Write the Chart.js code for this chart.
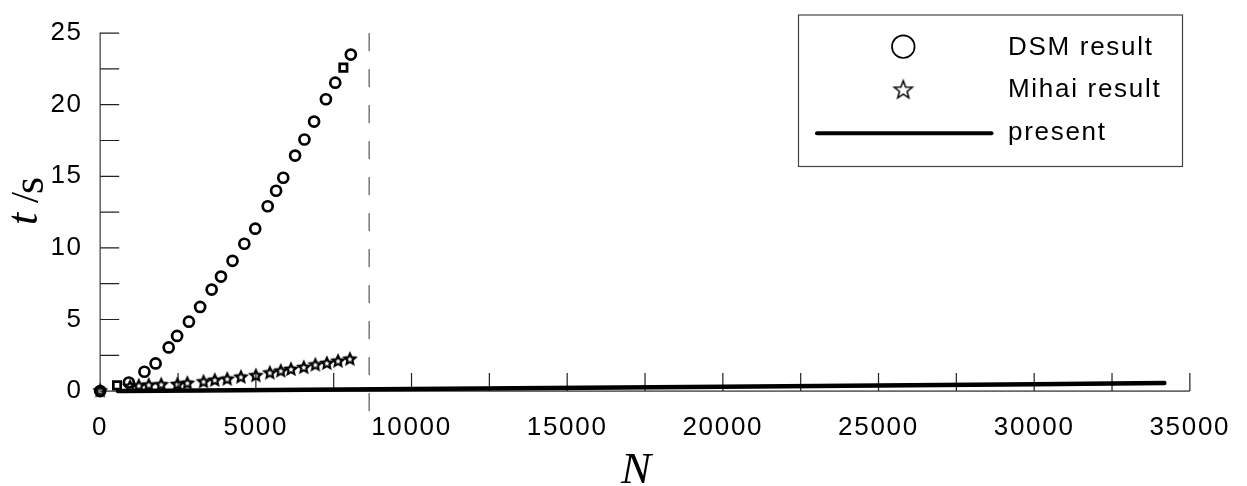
<!DOCTYPE html>
<html>
<head>
<meta charset="utf-8">
<script src="https://cdn.jsdelivr.net/npm/chart.js@4.4.0/dist/chart.umd.min.js"></script>
<style>
  html, body { margin: 0; padding: 0; background: #fff; }
  #wrap { width: 1247px; height: 486px; position: relative; }
  #c { display: block; }
</style>
</head>
<body>
<div id="wrap"><canvas id="c" width="1247" height="486"></canvas></div>
<script>
// ---- data ----
const seriesNames = ['DSM result', 'Mihai result', 'present'];

const dsmN = [0, 540, 920, 1420, 1780, 2200, 2470, 2850, 3210, 3580, 3880, 4250,
              4630, 4980, 5380, 5650, 5880, 6260, 6560, 6870, 7250, 7550, 7810, 8050];
const dsmT = [0, 0.4, 0.6, 1.35, 1.93, 3.05, 3.85, 4.85, 5.88, 7.09, 8.0, 9.1,
              10.29, 11.34, 12.91, 13.99, 14.9, 16.45, 17.57, 18.82, 20.38, 21.54, 22.59, 23.5];

const mihaiN = [0, 960, 1240, 1560, 1960, 2480, 2800, 3320, 3680, 4080, 4520, 5000,
                5450, 5800, 6130, 6540, 6910, 7280, 7640, 8020];
const mihaiT = [0.05, 0.35, 0.4, 0.45, 0.48, 0.5, 0.58, 0.68, 0.79, 0.87, 1.01, 1.11,
                1.3, 1.43, 1.55, 1.68, 1.86, 1.97, 2.12, 2.26];

const presentN = [570, 3250, 10000, 20000, 30000, 34180];
const presentT = [0.0, 0.04, 0.14, 0.31, 0.47, 0.56];

const limitN = [8640, 8640];
const limitT = [25, -1.7];

const xTickLabels = [0, 5000, 10000, 15000, 20000, 25000, 30000, 35000];
const yTickLabels = [0, 5, 10, 15, 20, 25];
const xMinorStep = 2500;
const yMinorStep = 2.5;

// ---- helpers ----
const pts = (xs, ys) => xs.map((x, i) => ({ x: x, y: ys[i] }));

function starImage(outer, inner, lw) {
  const size = Math.ceil(outer * 2 + lw * 2 + 2);
  const c = document.createElement('canvas');
  c.width = c.height = size;
  const g = c.getContext('2d');
  g.translate(size / 2, size / 2 + outer * 0.1);
  g.beginPath();
  for (let i = 0; i < 10; i++) {
    const r = i % 2 ? inner : outer;
    const a = -Math.PI / 2 + i * Math.PI / 5;
    g.lineTo(r * Math.cos(a), r * Math.sin(a));
  }
  g.closePath();
  g.lineWidth = lw;
  g.strokeStyle = '#000';
  g.lineJoin = 'miter';
  g.stroke();
  return c;
}
const smallStar = starImage(5.6, 2.6, 2.2);
const legendStar = starImage(9.5, 4, 1.5);
const squareMarks = [1, 22];

const FONT = "'Liberation Sans', Arial, Helvetica, sans-serif";
const SERIF = "'Liberation Serif', 'Times New Roman', serif";
const SPACING = '1.7px';

Chart.defaults.font.family = FONT;
Chart.defaults.color = '#000';

// axes lines, inward tick marks, axis titles and the key box
const decor = {
  id: 'decor',
  beforeDraw(chart) {
    chart.ctx.letterSpacing = SPACING;
  },
  beforeDatasetsDraw(chart) {
    const { ctx, chartArea: a, scales: { x, y } } = chart;
    ctx.save();
    ctx.strokeStyle = '#6a6a6a';
    ctx.lineWidth = 1.6;
    ctx.beginPath();
    ctx.moveTo(a.left, a.top - 0.6);
    ctx.lineTo(a.left, a.bottom);
    ctx.lineTo(a.right, a.bottom);
    ctx.stroke();

    ctx.strokeStyle = '#222';
    ctx.lineWidth = 1.2;
    ctx.beginPath();
    for (let v = x.min + xMinorStep; v <= x.max + 1e-6; v += xMinorStep) {
      const px = x.getPixelForValue(v);
      ctx.moveTo(px, a.bottom);
      ctx.lineTo(px, a.bottom - 18);
    }
    for (let v = y.min + yMinorStep; v <= y.max + 1e-6; v += yMinorStep) {
      const py = y.getPixelForValue(v);
      ctx.moveTo(a.left, py);
      ctx.lineTo(a.left + 19, py);
    }
    ctx.stroke();
    ctx.restore();
  },
  afterDraw(chart) {
    const { ctx } = chart;
    ctx.save();
    ctx.letterSpacing = '0px';
    ctx.fillStyle = '#000';

    // x title
    ctx.font = 'italic 45px ' + SERIF;
    ctx.textAlign = 'center';
    ctx.textBaseline = 'alphabetic';
    ctx.fillText('N', 636, 483);

    // y title
    ctx.save();
    ctx.translate(36.7, 227);
    ctx.rotate(-Math.PI / 2);
    ctx.textAlign = 'left';
    ctx.font = 'italic 44px ' + SERIF;
    ctx.fillText('t', 2, 0);
    ctx.font = '40px ' + SERIF;
    ctx.fillText('/', 24, 1);
    ctx.font = '44px ' + SERIF;
    ctx.fillText('s', 33, 6.6);
    ctx.restore();

    // key box
    const bx = 798.5, by = 15, bw = 384, bh = 151.5;
    ctx.strokeStyle = '#444';
    ctx.lineWidth = 1.2;
    ctx.strokeRect(bx, by, bw, bh);

    const rows = [46.7, 89.3, 131.7];
    const mx = 903.3;
    ctx.strokeStyle = '#000';
    ctx.lineWidth = 1.7;
    ctx.beginPath();
    ctx.arc(mx, rows[0], 11.3, 0, Math.PI * 2);
    ctx.stroke();
    ctx.drawImage(legendStar, mx - legendStar.width / 2, rows[1] - legendStar.height / 2);
    ctx.lineWidth = 4;
    ctx.lineCap = 'round';
    ctx.beginPath();
    ctx.moveTo(817, rows[2] + 1.5);
    ctx.lineTo(991.5, rows[2] + 1.5);
    ctx.stroke();

    ctx.letterSpacing = SPACING;
    ctx.font = '26px ' + FONT;
    ctx.textAlign = 'left';
    ctx.textBaseline = 'middle';
    for (let i = 0; i < 3; i++) {
      ctx.fillText(chart.data.datasets[i].label, 1008, rows[i] + 1);
    }
    ctx.restore();
  }
};

new Chart(document.getElementById('c'), {
  type: 'scatter',
  data: {
    datasets: [
      {
        label: seriesNames[0],
        data: pts(dsmN, dsmT),
        showLine: false,
        pointStyle: (c) => squareMarks.includes(c.dataIndex) ? 'rect' : 'circle',
        pointRadius: (c) => squareMarks.includes(c.dataIndex) ? 5.2 : 5,
        pointBorderWidth: 2.7,
        pointBorderColor: '#000',
        pointBackgroundColor: 'rgba(255,255,255,0)',
        clip: false
      },
      {
        label: seriesNames[1],
        data: pts(mihaiN, mihaiT),
        showLine: false,
        pointStyle: smallStar,
        pointRadius: 5,
        clip: false
      },
      {
        label: seriesNames[2],
        data: pts(presentN, presentT),
        showLine: true,
        borderColor: '#000',
        borderWidth: 4.5,
        borderCapStyle: 'round',
        pointRadius: 0,
        tension: 0,
        clip: false
      },
      {
        label: '',
        data: pts(limitN, limitT),
        showLine: true,
        borderColor: '#777',
        borderWidth: 1.5,
        borderDash: [18, 18],
        pointRadius: 0,
        clip: false
      }
    ]
  },
  options: {
    responsive: false,
    animation: false,
    events: [],
    devicePixelRatio: 1,
    layout: { padding: { top: 27.3, right: 53.2, left: 0, bottom: 0 } },
    plugins: { legend: { display: false }, tooltip: { enabled: false } },
    scales: {
      x: {
        type: 'linear',
        min: 0,
        max: 35000,
        afterBuildTicks: (s) => { s.ticks = xTickLabels.map(v => ({ value: v })); },
        afterFit: (s) => { s.height = 94.9; },
        grid: { display: false, drawTicks: false },
        border: { display: false },
        ticks: {
          autoSkip: false,
          maxRotation: 0,
          padding: 21,
          font: { size: 26, family: FONT },
          color: '#000',
          callback: (v) => String(v)
        }
      },
      y: {
        type: 'linear',
        min: 0,
        max: 25,
        afterBuildTicks: (s) => { s.ticks = yTickLabels.map(v => ({ value: v })); },
        afterFit: (s) => { s.width = 100.2; },
        grid: { display: false, drawTicks: false },
        border: { display: false },
        ticks: {
          padding: 17.5,
          font: { size: 26, family: FONT },
          color: '#000',
          callback: (v) => String(v)
        }
      }
    }
  },
  plugins: [decor]
});
</script>
</body>
</html>
